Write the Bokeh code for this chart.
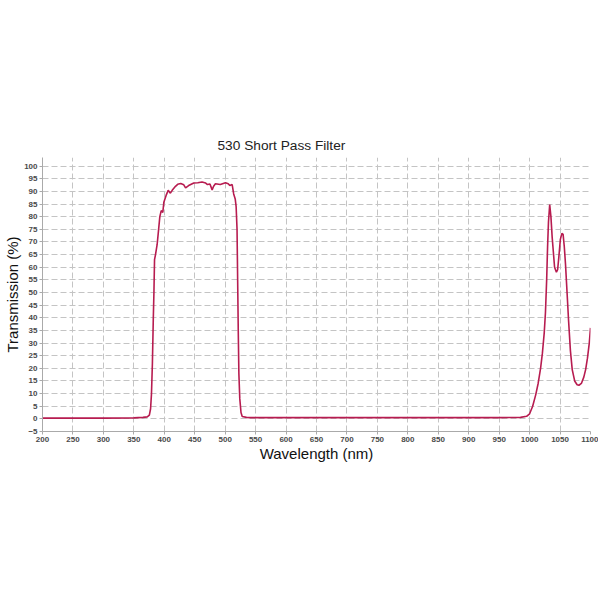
from bokeh.plotting import figure
from bokeh.models import FixedTicker, Range1d
from bokeh.embed import file_html
from bokeh.resources import INLINE

title_text = "530 Short Pass Filter"
x_label = "Wavelength (nm)"
y_label = "Transmission (%)"

x_ticks = list(range(200, 1101, 50))
y_ticks = list(range(-5, 101, 5))

wavelength = [200, 250, 300, 350, 365, 372, 375.5, 377.5, 379, 380.5, 382, 383, 384,
              385.6, 388.3, 390.5, 392.7, 395, 397.6, 399.3, 403, 406.4, 410, 413,
              418.4, 422, 427, 432, 435, 440, 448.5, 455, 462, 468, 471, 475, 478.6,
              481, 484, 492, 500.5, 505, 507.6, 511.5, 514, 516.5, 518, 519.5, 520.5,
              521.5, 522.5, 524, 526, 528, 535, 542, 600, 700, 800, 900, 950, 985, 995,
              1000, 1005, 1010, 1014, 1018, 1021, 1024, 1026, 1028, 1029.5, 1031, 1033,
              1035, 1037, 1039, 1041, 1044, 1046, 1048, 1050.5, 1053, 1055, 1057, 1059,
              1061.5, 1064, 1067, 1070, 1074, 1078, 1081, 1085, 1089, 1092, 1095, 1098, 1100]
transmission = [0.3, 0.3, 0.3, 0.4, 0.6, 0.8, 1.5, 4, 10, 22, 40, 50, 63,
                65, 69, 74.5, 80, 82.4, 81.7, 85.7, 88.4, 90.4, 89.3, 90.4,
                92, 92.8, 93.1, 92.6, 91.4, 92.3, 93.3, 93.4, 93.7, 93.3, 92.7, 92.9, 90.6,
                92.0, 93.0, 92.7, 93.4, 93.0, 92.3, 92.7, 89, 87, 84, 75, 55,
                35, 18, 8, 2.5, 0.9, 0.6, 0.5, 0.5, 0.5, 0.5, 0.5, 0.5, 0.6, 1.0,
                2, 5, 9.5, 14, 20, 26, 34, 42, 55, 68, 78, 84.8,
                80, 72, 66, 60, 58, 59, 64, 71, 73.4, 73, 68, 61,
                50, 38.8, 27, 19.5, 15, 13.5, 13.3, 14, 16.5, 19.5, 24, 30, 36]

p = figure(width=598, height=560, x_range=Range1d(200, 1100), y_range=Range1d(-5, 103.4),
           output_backend="svg", toolbar_location=None,
           min_border_left=42, min_border_right=8, min_border_top=157, min_border_bottom=129)
p.outline_line_color = None
p.background_fill_color = "white"
p.border_fill_color = "white"

p.title.text = title_text
p.title.text_font = "Liberation Sans"
p.title.text_font_size = "13.7px"
p.title.text_font_style = "normal"
p.title.text_color = "#222222"
p.title.align = "left"
p.title.offset = 175

p.xaxis.ticker = FixedTicker(ticks=x_ticks)
p.yaxis.ticker = FixedTicker(ticks=y_ticks)
for ax in (p.xaxis, p.yaxis):
    ax.major_label_text_font = "Liberation Sans"
    ax.major_label_text_font_size = "8px"
    ax.major_label_text_font_style = "bold"
    ax.major_label_text_color = "#4a4a4a"
    ax.major_tick_out = 3
    ax.major_tick_in = 0
    ax.minor_tick_line_color = None
    ax.axis_line_color = "#aaaaaa"
    ax.major_tick_line_color = "#aaaaaa"
    ax.axis_label_text_font = "Liberation Sans"
    ax.axis_label_text_font_size = "15px"
    ax.axis_label_text_font_style = "normal"
    ax.axis_label_text_color = "#111111"
    ax.major_label_standoff = 2
p.xaxis.axis_label = x_label
p.yaxis.axis_label = y_label
p.xaxis.axis_label_standoff = 0
p.yaxis.axis_label_standoff = 0

for g in (p.xgrid, p.ygrid):
    g.grid_line_color = "#c4c4c4"
    g.grid_line_dash = "6 3"
    g.grid_line_width = 1

p.line(wavelength, transmission, line_color="#B71C50", line_width=1.6)

open("out.html", "w").write(file_html(p, INLINE))
